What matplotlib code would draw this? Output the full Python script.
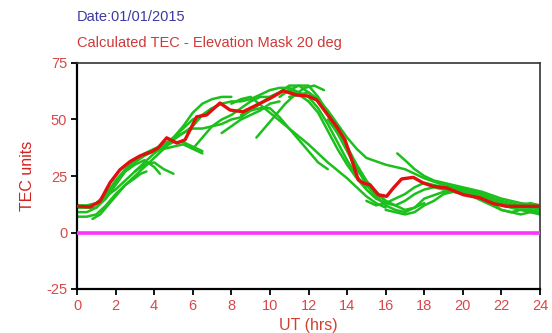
import matplotlib
matplotlib.use("Agg")
import matplotlib.pyplot as plt

plt.rcParams['font.family'] = ['Liberation Sans', 'DejaVu Sans']
plt.rcParams['axes.unicode_minus'] = False

# Mean calculated TEC (red)
mean_x = [0, 0.67, 1.19, 1.71, 2.23, 2.75, 3.27, 3.87, 4.2, 4.65, 5.17, 5.6, 6.2, 6.72,
          7.41, 7.93, 8.6, 9.12, 10.0, 10.68, 11.39, 11.97, 12.43, 12.94, 13.46, 13.89,
          14.24, 14.58, 14.84, 15.19, 15.62, 16.05, 16.4, 16.83, 17.43, 17.95, 18.47,
          19.17, 20.03, 20.89, 21.58, 22.28, 23.0, 24.0]
mean_y = [11.6, 11.3, 13.8, 22.0, 27.8, 31.4, 33.9, 35.8, 37.4, 41.9, 39.6, 41.0, 51.2, 52.0,
          57.3, 54.2, 53.4, 55.6, 59.3, 62.7, 60.8, 60.4, 58.6, 52.7, 46.8, 41.0,
          32.2, 23.3, 21.9, 21.1, 16.7, 16.0, 19.7, 23.7, 24.4, 21.9, 20.4,
          19.7, 16.7, 15.3, 12.8, 11.6, 11.6, 11.6]

# Per-satellite arcs (green)
arcs = [
    ([0, 0.5, 1, 1.5, 2, 2.5, 3, 3.5, 4, 4.5, 5, 5.5, 6, 6.5, 7, 7.5, 8],
     [12, 12, 13, 17, 23, 28, 32, 35, 37, 39, 42, 47, 53, 57, 59, 60, 60]),
    ([0, 0.5, 1, 1.5, 2, 2.5, 3, 3.5, 4, 4.3],
     [9, 9, 11, 16, 22, 27, 30, 32, 29, 26]),
    ([0, 0.5, 1, 1.5, 2, 2.5, 3, 3.3, 3.6],
     [7, 7, 8, 12, 17, 21, 24, 26, 27]),
    ([0, 0.5, 1, 1.5, 2, 2.5, 3, 3.5, 4, 4.5, 5, 5.5, 6, 6.5],
     [11, 11, 11, 15, 21, 27, 31, 34, 36, 37, 38, 39, 37, 35]),
    ([0.8, 1.2, 1.6, 2, 2.5, 3, 3.5, 4, 4.5, 5, 5.5, 6, 6.5, 7],
     [6, 8, 12, 16, 21, 25, 29, 33, 37, 41, 44, 47, 52, 55]),
    ([1.5, 2, 2.5, 3, 3.5, 4, 4.5, 5],
     [16, 19, 23, 27, 30, 31, 28, 26]),
    ([4, 4.5, 5, 5.5, 6, 6.5, 7, 7.5, 8, 8.5, 9, 9.5, 10, 10.5, 11, 11.5, 12, 12.5, 13,
      13.5, 14, 14.5, 15],
     [36, 38, 42, 46, 50, 52, 55, 57, 58, 58, 59, 61, 63, 64, 64, 62, 60, 55, 48,
      40, 32, 25, 20]),
    ([5, 5.5, 6, 6.5, 7, 7.5, 8, 8.5, 9, 9.5, 10, 10.5, 11, 11.5, 12],
     [42, 44, 46, 46, 47, 48, 50, 51, 54, 57, 60, 62, 63, 61, 58]),
    ([3, 3.5, 4, 4.5, 5, 5.5, 6, 6.5],
     [27, 31, 35, 38, 40, 40, 38, 36]),
    ([6, 6.5, 7, 7.5, 8, 8.5, 9, 9.5, 10, 10.5, 11, 11.5, 12, 12.5, 13, 13.5, 14, 14.5,
      15, 15.5, 16],
     [37, 42, 47, 50, 52, 55, 58, 60, 60, 62, 65, 65, 62, 58, 52, 44, 36, 28,
      22, 17, 14]),
    ([8, 8.5, 9, 10, 11, 12, 13, 14, 14.5, 15, 15.5, 16],
     [57, 59, 60, 53, 46, 39, 31, 24, 20, 16, 13, 11]),
    ([8.5, 9, 9.5, 10, 10.5, 11, 11.5, 12, 12.5, 13],
     [52, 54, 55, 55, 51, 46, 41, 36, 31, 28]),
    ([7.5, 8, 8.5, 9, 9.5, 10, 10.5],
     [44, 47, 50, 52, 54, 57, 58]),
    ([9.3, 9.8, 10.3, 10.8, 11.3, 11.8, 12.3, 12.8],
     [42, 47, 52, 57, 61, 64, 65, 63]),
    ([10.5, 11, 11.5, 12, 12.5, 13, 13.5, 14, 14.5, 15, 15.5, 16, 16.5, 17, 17.5, 18],
     [60, 63, 65, 65, 60, 53, 45, 38, 30, 23, 18, 14, 12, 10, 11, 13]),
    ([11, 11.5, 12, 12.5, 13, 13.5, 14, 14.5, 15, 16, 17, 18, 19, 20, 21, 22, 23, 24],
     [60, 61, 62, 59, 54, 48, 42, 37, 33, 30, 28, 24, 21, 19, 17, 14, 12, 10]),
    ([12, 12.5, 13, 13.5, 14, 14.5, 15, 15.5, 16, 16.5, 17, 17.5, 18, 18.5, 19, 20, 21,
      22, 23, 24],
     [58, 53, 45, 37, 30, 24, 19, 15, 13, 12, 14, 17, 19, 20, 19, 18, 16, 12, 10, 8]),
    ([13, 13.5, 14, 14.5, 15, 15.5, 16, 16.5, 17, 17.5, 18, 19, 20, 21, 22, 23, 24],
     [50, 44, 37, 29, 21, 16, 12, 10, 9, 11, 15, 18, 19, 17, 13, 11, 11]),
    ([16.6, 17, 17.5, 18, 18.5, 19, 19.5, 20, 21, 22, 23, 24],
     [35, 32, 28, 25, 23, 22, 21, 20, 18, 15, 13, 12]),
    ([15, 15.5, 16, 16.5, 17, 17.5, 18, 18.5, 19, 19.5, 20, 20.5, 21, 21.5, 22, 22.5, 23,
      23.5, 24],
     [14, 12, 13, 15, 17, 20, 22, 21, 20, 19, 17, 16, 15, 13, 10, 9, 10, 10, 9]),
    ([16, 16.5, 17, 17.5, 18, 18.5, 19, 19.5, 20, 20.5, 21, 21.5, 22, 22.5, 23, 23.5, 24],
     [10, 9, 8, 9, 12, 14, 17, 18, 17, 16, 14, 12, 10, 9, 8, 9, 9]),
    ([19, 19.5, 20, 20.5, 21, 21.5, 22, 22.5, 23, 23.5, 24],
     [21, 20, 19, 18, 17, 15, 13, 12, 12, 13, 12]),
]

x_ticks = list(range(0, 25, 2))
y_ticks = [-25, 0, 25, 50, 75]

fig = plt.figure(figsize=(5.52, 3.33), dpi=100)
ax = fig.add_axes([77 / 552, 1 - 289 / 333, 463 / 552, 226 / 333])

for ax_x, ax_y in arcs:
    ax.plot(ax_x, ax_y, color='#1cc01c', lw=1.8, solid_capstyle='round', zorder=2)
ax.plot(mean_x, mean_y, color='#e01010', lw=2.4, zorder=3)
ax.axhline(0, color='#ff33ff', lw=2.6, zorder=3)

ax.set_xlim(0, 24)
ax.set_ylim(-25, 75)
ax.set_xticks(x_ticks)
ax.set_yticks(y_ticks)
ax.tick_params(direction='out', length=4, width=1.3, colors='black',
               labelcolor='#d84848', labelsize=10.5, pad=3)
for s in ['left', 'bottom']:
    ax.spines[s].set_linewidth(1.6)
    ax.spines[s].set_color('black')
for s in ['top', 'right']:
    ax.spines[s].set_linewidth(1.2)
    ax.spines[s].set_color('#333333')

ax.set_ylabel('TEC units', color='#d42020', fontsize=11.5, labelpad=8)
ax.set_xlabel('UT (hrs)', color='#d04030', fontsize=11.5, labelpad=4)

fig.text(77 / 552, 1 - 17 / 333, 'Date:01/01/2015', color='#3a3aa0', fontsize=10.5,
         va='center', ha='left')
fig.text(77 / 552, 1 - 43 / 333, 'Calculated TEC - Elevation Mask 20 deg', color='#d03838',
         fontsize=10.5, va='center', ha='left')

fig.savefig('out.png', dpi=100)
